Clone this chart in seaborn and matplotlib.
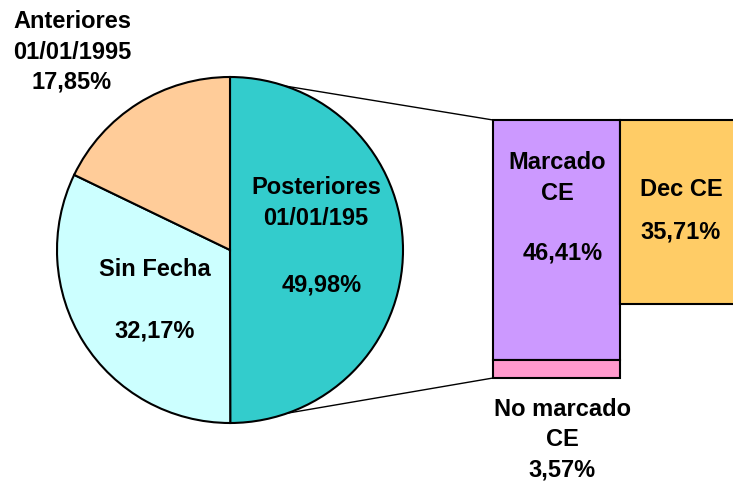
import matplotlib
matplotlib.use("Agg")
import matplotlib.pyplot as plt
from matplotlib.patches import ConnectionPatch
import seaborn as sns

# datos del grafico
sectores = ["Posteriores\n01/01/195", "Sin Fecha", "Anteriores\n01/01/1995"]
porc_sectores = [49.98, 32.17, 17.85]
col_sectores = ["#33CCCC", "#CCFFFF", "#FFCC99"]

barras = ["Marcado\nCE", "Dec CE"]
porc_barras = [46.41, 35.71]
col_barras = ["#CC99FF", "#FFCC66"]

no_marcado = "No marcado\nCE"
porc_no_marcado = 3.57
col_no_marcado = "#FF99CC"

sns.set_style("white")
plt.rcParams["font.family"] = ["Liberation Sans", "DejaVu Sans"]

W, H = 733, 482
fig = plt.figure(figsize=(W / 100, H / 100), dpi=100)


def fx(px):
    return px / W


def fy(py):
    return 1 - py / H


# pastel (centro 230,250 radio 173 px)
r = 173
m = 180
ax_p = fig.add_axes([fx(230 - m), fy(250 + m), 2 * m / W, 2 * m / H])
ax_p.set_zorder(2)
wedges, _ = ax_p.pie(porc_sectores, colors=col_sectores, startangle=90, counterclock=False,
                     wedgeprops={"edgecolor": "black", "linewidth": 1.5})
ax_p.set_xlim(-m / r, m / r)
ax_p.set_ylim(-m / r, m / r)
ax_p.set_aspect("equal")
ax_p.axis("off")

# barras (eje y invertido, 0 arriba)
ax_b = fig.add_axes([fx(493), fy(378), 254 / W, 258 / H])
ax_b.set_zorder(1)
sns.barplot(x=barras, y=porc_barras, hue=barras, palette=col_barras, legend=False,
            saturation=1, width=1, edgecolor="black", linewidth=1.5, ax=ax_b)
ax_b.bar([0], [porc_no_marcado], bottom=[porc_barras[0]], width=1, color=col_no_marcado,
         edgecolor="black", linewidth=1.5)
ax_b.set_xlim(-0.5, 1.5)
ax_b.set_ylim(sum([porc_barras[0], porc_no_marcado]), 0)
ax_b.axis("off")
for p in ax_b.patches:
    p.set_clip_on(False)

# lineas de union
total = porc_barras[0] + porc_no_marcado
for ya, yb in [(1, 0), (-1, total)]:
    con = ConnectionPatch(xyA=(0, ya), coordsA=ax_p.transData, xyB=(-0.5, yb),
                          coordsB=ax_b.transData, color="black", linewidth=1)
    ax_b.add_artist(con)


def pct(v):
    return f"{v:.2f}%".replace(".", ",")


fs = 17
kw = dict(fontsize=fs, fontweight="bold", ha="center", va="center", linespacing=1.4,
          color="black")
fig.text(fx(316), fy(203), sectores[0], **kw)
fig.text(fx(322), fy(285), pct(porc_sectores[0]), **kw)
fig.text(fx(155), fy(270), sectores[1], **kw)
fig.text(fx(155), fy(331), pct(porc_sectores[1]), **kw)
fig.text(fx(72), fy(52), sectores[2] + "\n" + pct(porc_sectores[2]), **kw)

fig.text(fx(557), fy(178), barras[0], **kw)
fig.text(fx(563), fy(253), pct(porc_barras[0]), **kw)
fig.text(fx(681), fy(190), barras[1], **kw)
fig.text(fx(681), fy(232), pct(porc_barras[1]), **kw)
fig.text(fx(562), fy(440), no_marcado + "\n" + pct(porc_no_marcado), **kw)

fig.savefig("out.png", dpi=100)
